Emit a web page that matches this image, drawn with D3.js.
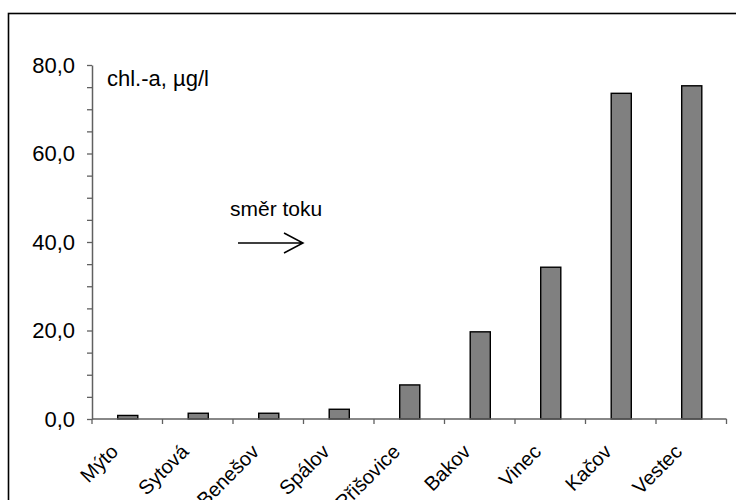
<!DOCTYPE html>
<html>
<head>
<meta charset="utf-8">
<script src="https://cdn.jsdelivr.net/npm/d3@7"></script>
<style>
  html, body { margin: 0; padding: 0; background: #fff; }
  svg { display: block; font-family: "Liberation Sans", Arial, sans-serif; }
</style>
</head>
<body>
<svg id="chart" width="736" height="500"></svg>
<script>
// Sampling sites along the river, upstream to downstream
const sites = ["Mýto", "Sytová", "Benešov", "Spálov", "Přišovice", "Bakov", "Vinec", "Kačov", "Vestec"];
// Chlorophyll-a concentration, µg/l
const chlA = [0.8, 1.3, 1.3, 2.2, 7.7, 19.7, 34.3, 73.6, 75.3];
// Value axis
const yTicks = [0, 20, 40, 60, 80];
const yMinorTicks = d3.range(0, 80.1, 5);
const yLabel = "chl.-a, µg/l";
const flowLabel = "směr toku";

const svg = d3.select("#chart");
const plot = { left: 92, right: 726.5, top: 65, bottom: 419 };

// outer frame (runs off the right and bottom edges)
svg.append("rect")
  .attr("x", 8.5).attr("y", 13.5)
  .attr("width", 800).attr("height", 600)
  .attr("fill", "none").attr("stroke", "#000").attr("stroke-width", 1.6);

const x = d3.scaleBand().domain(sites).range([plot.left, plot.right]).paddingInner(0).paddingOuter(0);
const y = d3.scaleLinear().domain([0, 80]).range([plot.bottom, plot.top]);
const fmt = v => d3.format(".1f")(v).replace(".", ",");

// bars
const barW = x.bandwidth() * 0.285;
svg.append("g").selectAll("rect")
  .data(sites.map((s, i) => ({ s, v: chlA[i] })))
  .join("rect")
  .attr("x", d => x(d.s) + x.bandwidth() / 2 - barW / 2 + 0.5)
  .attr("width", barW)
  .attr("y", d => y(d.v))
  .attr("height", d => y(0) - y(d.v))
  .attr("fill", "#808080")
  .attr("stroke", "#000")
  .attr("stroke-width", 1.4);

const axisColor = "#606060";

// y axis: minor ticks every 5, labels every 20
const yAxis = svg.append("g").attr("transform", `translate(${plot.left},0)`)
  .call(d3.axisLeft(y).tickValues(yMinorTicks).tickSize(5).tickSizeOuter(0).tickFormat(""));
yAxis.select(".domain").attr("stroke", axisColor).attr("stroke-width", 1.5);
yAxis.selectAll(".tick line").attr("stroke", axisColor).attr("stroke-width", 1.3);

svg.append("g").selectAll("text")
  .data(yTicks)
  .join("text")
  .attr("x", 75)
  .attr("y", d => y(d))
  .attr("dy", "0.36em")
  .attr("text-anchor", "end")
  .attr("font-size", 22)
  .attr("fill", "#000")
  .text(fmt);

// x axis: ticks at category boundaries
const edges = sites.map(s => x(s)).concat([x(sites[sites.length - 1]) + x.bandwidth()]);
svg.append("line")
  .attr("x1", plot.left).attr("x2", plot.right)
  .attr("y1", y(0)).attr("y2", y(0))
  .attr("stroke", axisColor).attr("stroke-width", 1.5);
svg.append("g").selectAll("line")
  .data(edges)
  .join("line")
  .attr("x1", d => d).attr("x2", d => d)
  .attr("y1", y(0)).attr("y2", y(0) + 5)
  .attr("stroke", axisColor).attr("stroke-width", 1.3);

// rotated site names
svg.append("g").selectAll("text")
  .data(sites)
  .join("text")
  .attr("transform", d => `translate(${x(d) + x.bandwidth() / 2 - 8},${y(0) + 34}) rotate(-45)`)
  .attr("text-anchor", "end")
  .attr("font-size", 20)
  .attr("fill", "#000")
  .text(d => d);

// unit label
svg.append("text")
  .attr("x", 107).attr("y", 86)
  .attr("font-size", 22)
  .attr("fill", "#000")
  .text(yLabel);

// flow direction note
svg.append("text")
  .attr("x", 230).attr("y", 216)
  .attr("font-size", 21)
  .attr("fill", "#000")
  .text(flowLabel);

svg.append("path")
  .attr("d", "M238,243 H303 M284,233 L303,243 L284,253")
  .attr("fill", "none")
  .attr("stroke", "#000")
  .attr("stroke-width", 1.5);
</script>
</body>
</html>
